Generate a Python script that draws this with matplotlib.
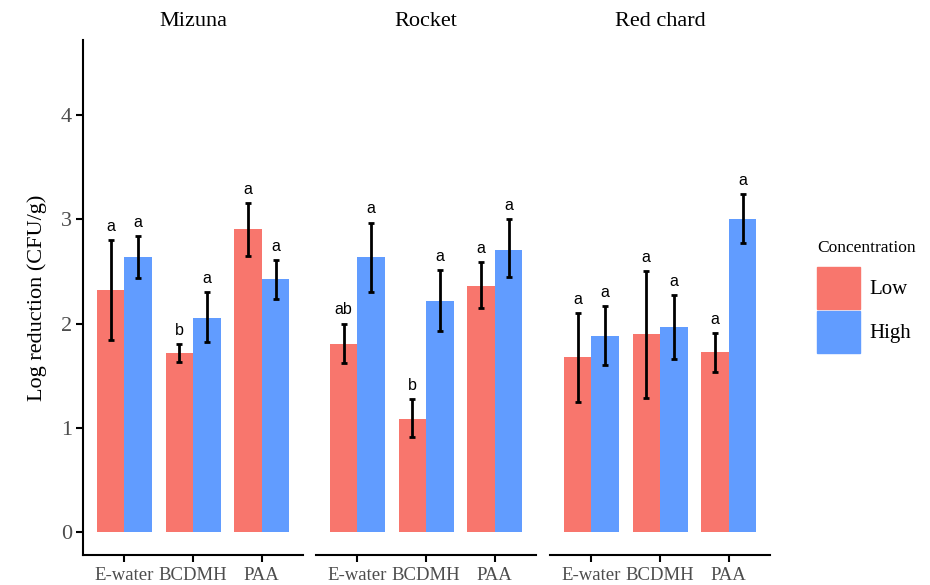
import matplotlib.pyplot as plt
import matplotlib.patches as mpatches
import numpy as np

panels = ['Mizuna', 'Rocket', 'Red chard']
treatments = ['E-water', 'BCDMH', 'PAA']

# mean log reduction per panel, per treatment
low_mean = [[2.32, 1.72, 2.91], [1.80, 1.08, 2.36], [1.68, 1.90, 1.73]]
high_mean = [[2.64, 2.05, 2.43], [2.64, 2.22, 2.71], [1.88, 1.97, 3.00]]
# error bar ends
low_lo = [[1.84, 1.63, 2.65], [1.62, 0.91, 2.15], [1.25, 1.28, 1.53]]
low_hi = [[2.80, 1.80, 3.16], [2.00, 1.27, 2.59], [2.10, 2.50, 1.91]]
high_lo = [[2.44, 1.82, 2.24], [2.30, 1.93, 2.45], [1.60, 1.66, 2.77]]
high_hi = [[2.84, 2.30, 2.61], [2.97, 2.51, 3.00], [2.17, 2.27, 3.24]]
# significance letters
low_letters = [['a', 'b', 'a'], ['ab', 'b', 'a'], ['a', 'a', 'a']]
high_letters = [['a', 'a', 'a'], ['a', 'a', 'a'], ['a', 'a', 'a']]

low_col = '#F8766D'
high_col = '#619CFF'
serif = 'Liberation Serif'
sans = 'Liberation Sans'

fig = plt.figure(figsize=(9.3, 5.85), dpi=100)
lefts = [83 / 930, 316 / 930, 550 / 930]
w = 220 / 930
bottom = 1 - 555 / 585
h = (555 - 40) / 585

x = np.arange(1, 4)
bw = 0.4
for i, name in enumerate(panels):
    ax = fig.add_axes([lefts[i], bottom, w, h])
    ax.bar(x - bw / 2, low_mean[i], width=bw, color=low_col)
    ax.bar(x + bw / 2, high_mean[i], width=bw, color=high_col)
    lm = np.array(low_mean[i])
    hm = np.array(high_mean[i])
    ax.errorbar(x - bw / 2, lm, yerr=[lm - np.array(low_lo[i]), np.array(low_hi[i]) - lm],
                fmt='none', ecolor='black', elinewidth=2, capsize=2.5, capthick=2)
    ax.errorbar(x + bw / 2, hm, yerr=[hm - np.array(high_lo[i]), np.array(high_hi[i]) - hm],
                fmt='none', ecolor='black', elinewidth=2, capsize=2.5, capthick=2)
    for j in range(3):
        ax.text(x[j] - bw / 2, low_hi[i][j] + 0.06, low_letters[i][j], ha='center', va='bottom',
                fontsize=11.5, family=sans)
        ax.text(x[j] + bw / 2, high_hi[i][j] + 0.06, high_letters[i][j], ha='center', va='bottom',
                fontsize=11.5, family=sans)
    ax.set_xlim(0.4, 3.6)
    ax.set_ylim(-0.225, 4.725)
    ax.set_xticks(x)
    ax.set_xticklabels(treatments, family=serif, fontsize=13.5, color='#4D4D4D')
    for s in ['top', 'right']:
        ax.spines[s].set_visible(False)
    ax.spines['bottom'].set_linewidth(1.5)
    ax.tick_params(axis='x', length=5, width=1.5, pad=4)
    ax.set_title(name, family=serif, fontsize=16, pad=10)
    if i == 0:
        ax.spines['left'].set_linewidth(1.5)
        ax.set_yticks([0, 1, 2, 3, 4])
        ax.set_yticklabels(['0', '1', '2', '3', '4'], family=serif, fontsize=16, color='#4D4D4D')
        ax.tick_params(axis='y', length=5, width=1.5, pad=3)
        ax.set_ylabel('Log reduction (CFU/g)', family=serif, fontsize=16, labelpad=10)
    else:
        ax.spines['left'].set_visible(False)
        ax.set_yticks([])

# legend
fig.text(817 / 930, 1 - 248 / 585, 'Concentration', family=serif, fontsize=12.5,
         ha='left', va='center')
handles = [mpatches.Patch(color=low_col, label='Low'), mpatches.Patch(color=high_col, label='High')]
leg = fig.legend(handles=handles, loc='upper left', bbox_to_anchor=(802 / 930, 1 - 252 / 585),
                 frameon=False, prop={'family': serif, 'size': 15},
                 handlelength=2.07, handleheight=2.75, labelspacing=0.1, handletextpad=0.45,
                 borderpad=0.2)

fig.savefig('out.png', dpi=100)
